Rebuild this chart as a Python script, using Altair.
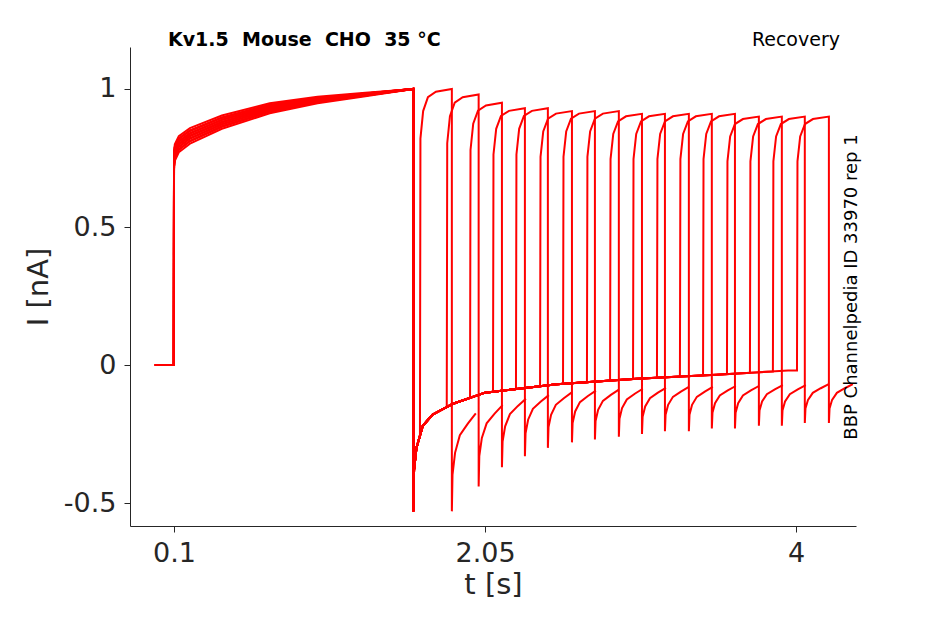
import numpy as np
import pandas as pd
import altair as alt

# first pulse (shared by all sweeps)
pulse1_t = [-0.02, 0.09, 0.099, 0.1, 0.105, 0.13, 0.2, 0.4, 0.7, 1.0, 1.3, 1.6]
pulse1_i = [0.0, 0.0, 0.0, 0.74, 0.77, 0.80, 0.83, 0.88, 0.93, 0.96, 0.98, 1.0]
early_offset = [0.0, -0.02, 0.02, -0.03, 0.01, 0.03, -0.01, 0.0, 0.02, -0.02, 0.01, 0.0, -0.01, 0.02, 0.0, 0.01, -0.02]

# tail after first pulse
tail1_t = [1.6, 1.605, 1.62, 1.66, 1.72, 1.85, 2.05, 2.5, 3.0, 3.5, 3.95]
tail1_i = [-0.53, -0.38, -0.3, -0.22, -0.18, -0.14, -0.1, -0.07, -0.05, -0.035, -0.02]

# second pulse start times, peaks and tail minima per sweep
t2 = [1.642, 1.81, 1.956, 2.1, 2.244, 2.395, 2.539, 2.689, 2.834, 2.978,
      3.128, 3.272, 3.417, 3.567, 3.711, 3.855, 4.006]
peak2 = [1.0, 0.98, 0.95, 0.93, 0.93, 0.92, 0.92, 0.92, 0.91, 0.91,
         0.91, 0.91, 0.91, 0.9, 0.9, 0.9, 0.9]
tailmin2 = [-0.53, -0.44, -0.37, -0.33, -0.3, -0.28, -0.27, -0.26, -0.25, -0.24,
            -0.24, -0.23, -0.23, -0.22, -0.22, -0.21, -0.21]
# shape of second pulse and its tail (time offset, fraction)
p2_dt = [0.0, 0.003, 0.02, 0.05, 0.1, 0.2]
p2_fr = [0.0, 0.82, 0.92, 0.97, 0.99, 1.0]
tail2_dt = [0.0, 0.004, 0.02, 0.05, 0.1, 0.15]
tail2_fr = [1.0, 0.75, 0.6, 0.48, 0.4, 0.33]

rows = []
for k in range(len(t2)):
    pts = []
    for t, v in zip(pulse1_t, pulse1_i):
        off = early_offset[k] * (1.6 - t) / 1.5 if t >= 0.1 and v > 0 else 0
        pts.append((t, v + off))
    base_end = np.interp(t2[k], tail1_t, tail1_i)
    for t, v in zip(tail1_t, tail1_i):
        if t < t2[k]:
            pts.append((t, v))
    pts.append((t2[k], base_end))
    for dt, fr in zip(p2_dt, p2_fr):
        pts.append((t2[k] + dt, peak2[k] * fr if dt > 0 else base_end))
    tend = t2[k] + 0.2
    for dt, fr in zip(tail2_dt, tail2_fr):
        pts.append((tend + dt + 0.0001, tailmin2[k] * fr))
    for i, (t, v) in enumerate(pts):
        rows.append({"sweep": k, "o": i, "t": t, "I": v})

df = pd.DataFrame(rows)

lines = alt.Chart(df).mark_line(color="#ff0000", strokeWidth=2, clip=True).encode(
    x=alt.X("t:Q", title="t [s]", scale=alt.Scale(domain=[-0.176, 4.376], nice=False, zero=False),
            axis=alt.Axis(values=[0.1, 2.05, 4], labelExpr="datum.value == 0.1 ? '0.1' : datum.value == 2.05 ? '2.05' : '4'")),
    y=alt.Y("I:Q", title="I [nA]", scale=alt.Scale(domain=[-0.583, 1.152], nice=False, zero=False),
            axis=alt.Axis(values=[-0.5, 0, 0.5, 1],
                          labelExpr="datum.value == -0.5 ? '-0.5' : datum.value == 0 ? '0' : datum.value == 0.5 ? '0.5' : '1'")),
    detail="sweep:N",
    order="o:Q",
)

nb = "\u00a0"
title_txt = f"Kv1.5{nb}{nb}Mouse{nb}{nb}CHO{nb}{nb}35{nb}°C"
title = alt.Chart(pd.DataFrame({"txt": [title_txt]})).mark_text(
    align="left", fontSize=19, fontWeight="bold", font="DejaVu Sans", color="black").encode(
    x=alt.value(38), y=alt.value(-7), text="txt:N")
rec = alt.Chart(pd.DataFrame({"txt": ["Recovery"]})).mark_text(
    align="right", fontSize=19, font="DejaVu Sans", color="black").encode(
    x=alt.value(710), y=alt.value(-7), text="txt:N")
side = alt.Chart(pd.DataFrame({"txt": ["BBP Channelpedia ID 33970 rep 1"]})).mark_text(
    angle=270, fontSize=18, font="DejaVu Sans", color="black").encode(
    x=alt.value(722), y=alt.value(240), text="txt:N")

chart = (lines + title + rec + side).properties(
    width=726, height=479,
    autosize=alt.AutoSizeParams(type="none"),
    padding={"left": 122, "top": 39, "right": 80, "bottom": 90},
).configure_view(stroke=None).configure_axis(
    grid=False, domainColor="#262626", tickColor="#262626", labelColor="#262626", titleColor="#262626",
    labelFont="DejaVu Sans", titleFont="DejaVu Sans", labelFontSize=27, titleFontSize=29,
    titleFontWeight="normal", tickSize=6, labelPadding=8,
).configure_axisX(titlePadding=4).configure_axisY(titlePadding=10)

chart.save("out.html", embed_options={"renderer": "svg", "actions": False})
